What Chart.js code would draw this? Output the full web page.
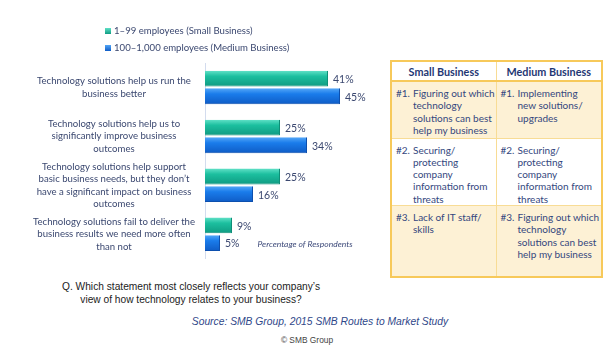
<!DOCTYPE html>
<html>
<head>
<meta charset="utf-8">
<script src="https://cdn.jsdelivr.net/npm/chart.js@4/dist/chart.umd.min.js"></script>
<style>
  html, body { margin: 0; padding: 0; background: #fff; }
  body { width: 616px; height: 346px; position: relative; overflow: hidden; font-family: Lato, sans-serif; }
  #chartBox { position: absolute; left: 0; top: 1px; width: 370px; height: 280px; }
  .legend { position: absolute; left: 105px; top: 22px; font-size: 9.6px; color: #3b4870; }
  .legend div { height: 17px; line-height: 17px; white-space: nowrap; }
  .legend i { display: inline-block; width: 6px; height: 6px; margin-right: 3px; vertical-align: 0px; }
  table.priorities { position: absolute; left: 390px; top: 60px; width: 211px; height: 218px;
    border-collapse: collapse; table-layout: fixed; border: 2px solid #f7c95a; font-size: 10px; color: #34477e; }
  table.priorities th { height: 18px; font-weight: bold; font-size: 10.8px; color: #1f3774; background: #fff;
    border-bottom: 2px solid #f7c95a; padding: 0; }
  table.priorities td { vertical-align: top; padding: 5px 0 0 4px; line-height: 12.3px; white-space: nowrap; }
  table.priorities th + th, table.priorities td + td { border-left: 1.5px solid #f8dc95; }
  table.priorities tr.shade td { background: #fdf1d5; }
  table.priorities tr + tr td { border-top: 1.5px solid #f8dc95; }
  .item { display: flex; }
  .item b { font-weight: normal; width: 17px; flex: none; }
  .question { position: absolute; left: 41px; top: 281px; width: 300px; text-align: center;
    font-family: "Liberation Sans", Arial, sans-serif; font-size: 10.2px; line-height: 12.5px; color: #222; }
  .source { position: absolute; left: 120px; top: 316px; width: 400px; text-align: center;
    font-family: "Liberation Sans", Arial, sans-serif; font-style: italic; font-size: 10.3px; color: #2f4789; }
  .copy { position: absolute; left: 207px; top: 335px; width: 200px; text-align: center;
    font-family: "Liberation Sans", Arial, sans-serif; font-size: 8.4px; color: #444; }
</style>
</head>
<body>
<div id="chartBox"><canvas id="techChart"></canvas></div>
<div class="legend" id="legend"></div>

<table class="priorities">
  <colgroup><col style="width:105px"><col style="width:106px"></colgroup>
  <tr><th>Small Business</th><th>Medium Business</th></tr>
  <tr class="shade" style="height:57px">
    <td><div class="item"><b>#1.</b><span>Figuring out which<br>technology<br>solutions can best<br>help my business</span></div></td>
    <td><div class="item"><b>#1.</b><span>Implementing<br>new solutions/<br>upgrades</span></div></td>
  </tr>
  <tr style="height:67px">
    <td><div class="item"><b>#2.</b><span>Securing/<br>protecting<br>company<br>information from<br>threats</span></div></td>
    <td><div class="item"><b>#2.</b><span>Securing/<br>protecting<br>company<br>information from<br>threats</span></div></td>
  </tr>
  <tr class="shade">
    <td><div class="item"><b>#3.</b><span>Lack of IT staff/<br>skills</span></div></td>
    <td><div class="item"><b>#3.</b><span>Figuring out which<br>technology<br>solutions can best<br>help my business</span></div></td>
  </tr>
</table>

<div class="question">Q. Which statement most closely reflects your company’s<br>view of how technology relates to your business?</div>
<div class="source">Source: SMB Group, 2015 SMB Routes to Market Study</div>
<div class="copy">© SMB Group</div>

<script>
// Survey answers, one line array per label
const statements = [
  ['Technology solutions help us run the', 'business better'],
  ['Technology solutions help us to', 'significantly improve business', 'outcomes'],
  ['Technology solutions help support', 'basic business needs, but they don’t', 'have a significant impact on business', 'outcomes'],
  ['Technology solutions fail to deliver the', 'business results we need more often', 'than not']
];
const seriesNames = ['1–99 employees (Small Business)', '100–1,000 employees (Medium Business)'];
const smallBusiness = [41, 25, 25, 9];
const mediumBusiness = [45, 34, 16, 5];
const axisNote = 'Percentage of Respondents';

// top / mid / bottom shades for the bevelled bars
const tealShades = ['#5fe0c6', '#1cbf9f', '#0f9b82'];
const blueShades = ['#53a6f7', '#1a7ceb', '#0f5cc6'];

const textColor = '#3b4870';

function barGradient(shades, side) {
  return function(context) {
    const chart = context.chart;
    const y = chart.scales.y;
    if (!y || context.dataIndex === undefined) return shades[1];
    const center = y.getPixelForValue(context.dataIndex);
    if (!isFinite(center) || !y.height) return shades[1];
    const half = y.height / statements.length * 0.72 / 2;
    const top = side < 0 ? center - half : center;
    const g = chart.ctx.createLinearGradient(0, top + 1, 0, top + half - 1);
    g.addColorStop(0, shades[0]);
    g.addColorStop(0.35, shades[1]);
    g.addColorStop(1, shades[2]);
    return g;
  };
}

// value labels after each bar plus the small axis note
const valueLabels = {
  id: 'valueLabels',
  afterDatasetsDraw(chart) {
    const ctx = chart.ctx;
    ctx.save();
    ctx.font = '10.5px Lato';
    ctx.fillStyle = textColor;
    ctx.textBaseline = 'middle';
    chart.data.datasets.forEach((ds, di) => {
      chart.getDatasetMeta(di).data.forEach((bar, i) => {
        ctx.fillText(ds.data[i] + '%', bar.x + 5, bar.y + 1);
      });
    });
    const x = chart.scales.x.getPixelForValue(17.5);
    const y = chart.scales.y.getPixelForValue(3) + 10;
    ctx.font = 'italic 8.5px Lato';
    ctx.fillStyle = '#3d4a7a';
    ctx.fillText(axisNote, x, y);
    ctx.restore();
  }
};

const chart = new Chart(document.getElementById('techChart'), {
  type: 'bar',
  data: {
    labels: statements,
    datasets: [
      { label: seriesNames[0], data: smallBusiness, backgroundColor: barGradient(tealShades, -1),
        borderColor: '#0e8e77', borderWidth: { bottom: 1, right: 1 } },
      { label: seriesNames[1], data: mediumBusiness, backgroundColor: barGradient(blueShades, 1),
        borderColor: '#0c4fae', borderWidth: { bottom: 1, right: 1 } }
    ]
  },
  options: {
    indexAxis: 'y',
    responsive: true,
    maintainAspectRatio: false,
    animation: false,
    categoryPercentage: 0.72,
    barPercentage: 0.9,
    layout: { padding: { left: 15, right: 15, top: 62, bottom: 14 } },
    plugins: {
      legend: { display: false },
      tooltip: { enabled: false }
    },
    scales: {
      x: { display: false, min: 0, max: 50 },
      y: {
        grid: { display: false, drawTicks: false },
        border: { display: true, color: '#d3dcee', width: 1 },
        afterFit(scale) { scale.width = 190; },
        ticks: {
          autoSkip: false,
          crossAlign: 'center',
          padding: 10,
          color: textColor,
          font: { family: 'Lato', size: 9.6, lineHeight: 1.28 }
        }
      }
    }
  },
  plugins: [valueLabels]
});
// second pass so the bar gradients see laid-out scales
chart.update();

// legend built from the same dataset names and colours
const legend = document.getElementById('legend');
[tealShades, blueShades].forEach((shades, i) => {
  const row = document.createElement('div');
  const box = document.createElement('i');
  box.style.background = 'linear-gradient(' + shades[0] + ',' + shades[2] + ')';
  row.appendChild(box);
  row.appendChild(document.createTextNode(seriesNames[i]));
  legend.appendChild(row);
});
</script>
</body>
</html>
